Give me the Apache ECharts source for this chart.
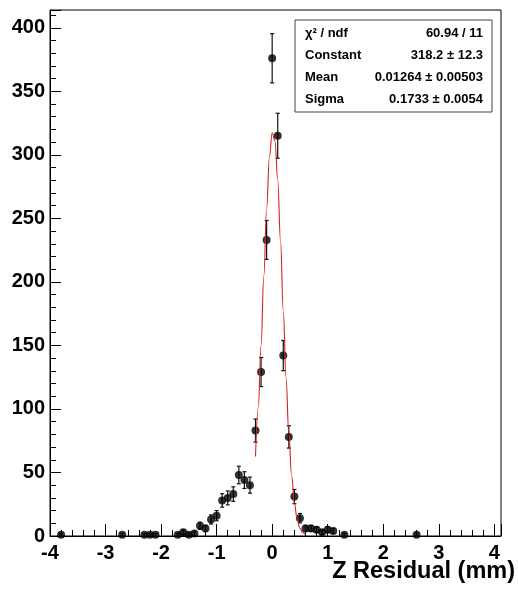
<!DOCTYPE html>
<html><head><meta charset="utf-8">
<script src="https://cdn.jsdelivr.net/npm/echarts@6/dist/echarts.min.js"></script>
<style>html,body{margin:0;padding:0;background:#fff}#c{width:518px;height:593px}</style>
</head><body><div id="c"></div>
<script>
// Histogram bin centres (mm) and entries
const binCenters = [-3.8, -2.7, -2.3, -2.2, -2.1, -1.7, -1.6, -1.5, -1.4, -1.3, -1.2, -1.1, -1.0, -0.9, -0.8, -0.7, -0.6, -0.5, -0.4, -0.3, -0.2, -0.1, 0.0, 0.1, 0.2, 0.3, 0.4, 0.5, 0.6, 0.7, 0.8, 0.9, 1.0, 1.1, 1.3, 2.6];
const counts =     [1, 1, 1, 1, 1, 1, 3, 1, 2, 8, 6, 13, 16, 28, 30, 33, 48, 44, 40, 83, 129, 233, 376, 315, 142, 78, 31, 14, 6, 6, 5, 3, 5, 4, 1, 1];
const errors =     [1, 1, 1, 1, 1, 1, 1.7, 1, 1.4, 2.8, 2.4, 3.6, 4, 5.3, 5.5, 5.7, 6.9, 6.6, 6.3, 9.1, 11.4, 15.3, 19.4, 17.7, 11.9, 8.8, 5.6, 3.7, 2.4, 2.4, 2.2, 1.7, 2.2, 2, 1, 1];
// Gaussian fit curve samples (from fit parameters in the stats box)
const fitX = [-0.30, -0.25, -0.20, -0.15, -0.10, -0.05, 0.00, 0.05, 0.10, 0.15, 0.20, 0.25, 0.30, 0.35, 0.40, 0.45, 0.50, 0.55, 0.60];
const fitY = [62.5, 100.9, 149.9, 204.8, 257.6, 298.1, 317.4, 310.9, 280.2, 232.4, 177.4, 124.5, 80.5, 47.8, 26.2, 13.2, 6.1, 2.6, 1.0];
// Stats box
const statsLabels = ['χ² / ndf', 'Constant', 'Mean', 'Sigma'];
const statsValues = ['60.94 / 11', '318.2 ± 12.3', '0.01264 ± 0.00503', '0.1733 ± 0.0054'];
const xTitle = 'Z Residual (mm)';

const FONT = '"Liberation Sans", Arial, Helvetica, sans-serif';
const chart = echarts.init(document.getElementById('c'), null, {renderer: 'canvas'});

const overlay = [{
  type: 'rect', x: 295, y: 20, z: 100,
  shape: {width: 197, height: 92},
  style: {fill: '#fff', stroke: '#444', lineWidth: 1}
}];
statsLabels.forEach((t, i) => {
  overlay.push({type: 'text', x: 305, y: 33 + i * 22, z: 101,
    style: {text: t, font: 'bold 13px ' + FONT, fill: '#000', align: 'left', verticalAlign: 'middle'}});
  overlay.push({type: 'text', x: 483, y: 33 + i * 22, z: 101,
    style: {text: statsValues[i], font: 'bold 13px ' + FONT, fill: '#000', align: 'right', verticalAlign: 'middle'}});
});
overlay.push({type: 'text', x: 515, y: 572, z: 101,
  style: {text: xTitle, font: 'bold 23.5px ' + FONT, fill: '#000', align: 'right', verticalAlign: 'middle'}});

const xMin = -4, xMax = 4.12, yMin = 0, yMax = 414;
const labelStyle = {fontFamily: FONT, fontWeight: 'bold', fontSize: 20, color: '#000'};

chart.setOption({
  animation: false,
  backgroundColor: '#fff',
  grid: {left: 50, right: 17, top: 10, bottom: 57, show: true, borderColor: '#000', borderWidth: 1,
    containLabel: false, outerBoundsMode: 'none'},
  xAxis: [
    {type: 'value', min: xMin, max: xMax, interval: 0.2, position: 'bottom',
      axisLine: {show: true, onZero: false, lineStyle: {color: '#000', width: 1}},
      axisTick: {show: true, inside: true, length: 6, lineStyle: {color: '#000'}},
      axisLabel: {show: false}, splitLine: {show: false}},
    {type: 'value', min: xMin, max: xMax, interval: 1, position: 'bottom',
      axisLine: {show: false, onZero: false},
      axisTick: {show: true, inside: true, length: 12, lineStyle: {color: '#000'}},
      axisLabel: Object.assign({margin: 7, formatter: v => (Math.abs(v - Math.round(v)) < 1e-6 ? String(Math.round(v)) : '')}, labelStyle),
      splitLine: {show: false}}
  ],
  yAxis: [
    {type: 'value', min: yMin, max: yMax, interval: 10, position: 'left',
      axisLine: {show: true, onZero: false, lineStyle: {color: '#000', width: 1}},
      axisTick: {show: true, inside: true, length: 6, lineStyle: {color: '#000'}},
      axisLabel: {show: false}, splitLine: {show: false}},
    {type: 'value', min: yMin, max: yMax, interval: 50, position: 'left', offset: 0,
      axisLine: {show: false, onZero: false},
      axisTick: {show: true, inside: true, length: 11, lineStyle: {color: '#000'}},
      axisLabel: Object.assign({margin: 5, padding: [5, 0, 0, 0], formatter: v => (v % 50 === 0 ? String(v) : '')}, labelStyle),
      splitLine: {show: false}}
  ],
  series: [
    {type: 'custom', xAxisIndex: 0, yAxisIndex: 0, z: 2,
      data: binCenters.map((x, i) => [x, counts[i], errors[i]]),
      renderItem: function (params, api) {
        const x = api.value(0), y = api.value(1), e = api.value(2);
        const top = api.coord([x, y + e]);
        const bot = api.coord([x, y - e]);
        const hw = 2;
        const st = {stroke: '#111', lineWidth: 1.2};
        return {type: 'group', children: [
          {type: 'line', shape: {x1: top[0], y1: top[1], x2: bot[0], y2: bot[1]}, style: st},
          {type: 'line', shape: {x1: top[0] - hw, y1: top[1], x2: top[0] + hw, y2: top[1]}, style: st},
          {type: 'line', shape: {x1: bot[0] - hw, y1: bot[1], x2: bot[0] + hw, y2: bot[1]}, style: st}
        ]};
      }},
    {type: 'scatter', xAxisIndex: 0, yAxisIndex: 0, z: 3,
      data: binCenters.map((x, i) => [x, counts[i]]),
      symbol: 'circle', symbolSize: 8, itemStyle: {color: '#000'}},
    {type: 'line', xAxisIndex: 0, yAxisIndex: 0, z: 4,
      data: fitX.map((x, i) => [x, fitY[i]]),
      showSymbol: false, smooth: 0.4, smoothMonotone: 'x',
      lineStyle: {color: '#d42020', width: 1.1}}
  ],
  graphic: overlay
});
</script></body></html>
